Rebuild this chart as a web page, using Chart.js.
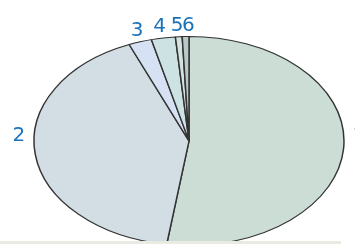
<!DOCTYPE html>
<html>
<head>
<meta charset="utf-8">
<script src="https://cdn.jsdelivr.net/npm/chart.js@4"></script>
<style>
  html, body { margin: 0; padding: 0; background: #fff; overflow: hidden; }
  #wrap { position: absolute; left: 0; top: 0; width: 355px; height: 260px; }
  #strip { position: absolute; left: 0; top: 241px; width: 341px; height: 6px; background: #e9ebe3; }
</style>
</head>
<body>
<div id="wrap"><canvas id="pie"></canvas></div>
<div id="strip"></div>
<script>
// slice data (share of the whole, %)
const labels = ['1', '2', '3', '4', '5', '6'];
const values = [52.3, 41.4, 2.4, 2.5, 0.7, 0.7];
const colors = ['#ccddd6', '#d2dee4', '#d6e2f3', '#cde3e3', '#d3e3e0', '#b9c9c9'];

// the pie is drawn stretched into an ellipse
const stretch = 155 / 104.5;
// small hand fixes for where the labels sit
const labelNudge = [[-1, -13], [0, -19], [0, 0], [-2, 0], [-1, 0], [3, 0]];

const ellipse = {
  id: 'ellipse',
  beforeDatasetsDraw(chart) {
    const a = chart.getDatasetMeta(0).data[0];
    const ctx = chart.ctx;
    ctx.save();
    ctx.translate(a.x, a.y);
    ctx.scale(stretch, 1);
    ctx.translate(-a.x, -a.y);
  },
  afterDatasetsDraw(chart) {
    chart.ctx.restore();
  },
  afterDraw(chart) {
    const ctx = chart.ctx;
    ctx.save();
    ctx.font = '20px "DejaVu Sans"';
    ctx.fillStyle = '#1a72bb';
    chart.getDatasetMeta(0).data.forEach((a, i) => {
      const mid = (a.startAngle + a.endAngle) / 2;
      const ux = Math.cos(mid), uy = Math.sin(mid);
      const px = a.x + ux * a.outerRadius * stretch + ux * 10;
      const py = a.y + uy * a.outerRadius + uy * 6;
      if (Math.abs(ux) > 0.7) {
        ctx.textAlign = ux < 0 ? 'right' : 'left';
        ctx.textBaseline = 'middle';
      } else {
        ctx.textAlign = 'center';
        ctx.textBaseline = 'alphabetic';
      }
      ctx.fillText(labels[i], px + labelNudge[i][0], py + labelNudge[i][1]);
    });
    ctx.restore();
  }
};

new Chart(document.getElementById('pie'), {
  type: 'pie',
  data: {
    labels: labels,
    datasets: [{
      data: values,
      backgroundColor: colors,
      borderColor: '#333333',
      borderWidth: 1
    }]
  },
  options: {
    responsive: true,
    maintainAspectRatio: false,
    animation: false,
    layout: { padding: { top: 36, bottom: 14, left: 84, right: 61 } },
    plugins: {
      legend: { display: false },
      tooltip: { enabled: false }
    }
  },
  plugins: [ellipse]
});
</script>
</body>
</html>
